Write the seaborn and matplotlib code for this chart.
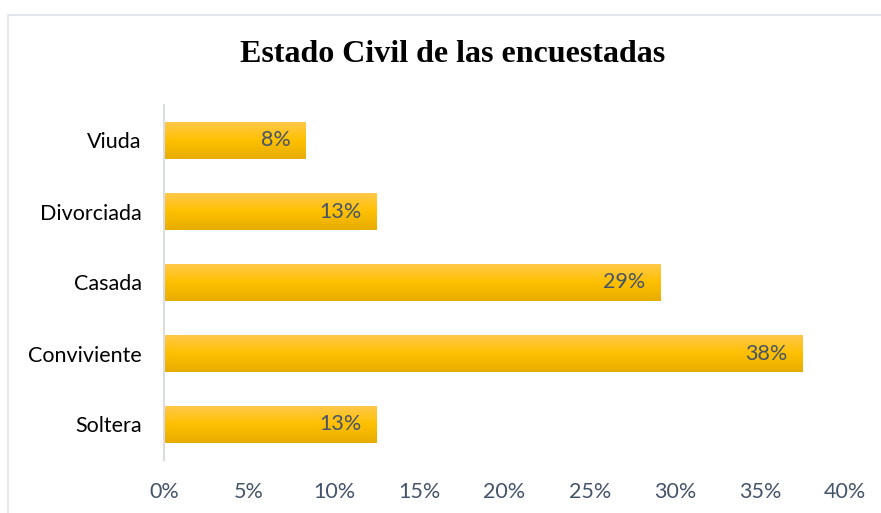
import numpy as np
import pandas as pd
import matplotlib
matplotlib.use("Agg")
import matplotlib.pyplot as plt
import seaborn as sns
from matplotlib.colors import LinearSegmentedColormap
from matplotlib.patches import Rectangle

# datos
categorias = ["Viuda", "Divorciada", "Casada", "Conviviente", "Soltera"]
porcentajes = [2 / 24, 3 / 24, 7 / 24, 9 / 24, 3 / 24]
etiquetas = ["8%", "13%", "29%", "38%", "13%"]
ticks_x = [0, 0.05, 0.10, 0.15, 0.20, 0.25, 0.30, 0.35, 0.40]
ticks_x_txt = ["0%", "5%", "10%", "15%", "20%", "25%", "30%", "35%", "40%"]

df = pd.DataFrame({"Estado": categorias, "Porcentaje": porcentajes})

sns.set_style("white")
plt.rcParams["font.family"] = ["Lato", "DejaVu Sans"]

fig = plt.figure(figsize=(8.81, 5.13), dpi=100)
ax = fig.add_axes([164 / 881, 1 - 460 / 513, (845 - 164) / 881, (460 - 105) / 513])

sns.barplot(data=df, x="Porcentaje", y="Estado", order=categorias,
            color="#FFC000", width=0.51, ax=ax, saturation=1)

# relleno degradado como en Excel
grad = LinearSegmentedColormap.from_list(
    "oro", ["#FFC84A", "#FFC000", "#E6AC00"])
fondo = np.linspace(0, 1, 256).reshape(-1, 1)
for p in ax.patches:
    x0, y0 = p.get_x(), p.get_y()
    w, h = p.get_width(), p.get_height()
    p.set_facecolor("none")
    p.set_edgecolor("none")
    im = ax.imshow(fondo, cmap=grad, aspect="auto",
                   extent=(x0, x0 + w, y0 + h, y0), zorder=2)
    im.set_clip_path(p)
    im.set_clip_box(ax.bbox)

for i, (v, t) in enumerate(zip(porcentajes, etiquetas)):
    ax.annotate(t, xy=(v, i), xytext=(-11, 0), textcoords="offset points",
                ha="right", va="center", fontsize=15.5, color="#44546A",
                zorder=3)

ax.set_xlim(0, 0.40)
ax.set_ylim(4.5, -0.5)
ax.set_xticks(ticks_x)
ax.set_xticklabels(ticks_x_txt)
ax.set_xlabel("")
ax.set_ylabel("")
ax.tick_params(axis="x", length=0, pad=16, labelsize=15.5, labelcolor="#44546A")
ax.tick_params(axis="y", length=0, pad=16, labelsize=15.5, labelcolor="#000000")

for s in ["top", "right", "bottom"]:
    ax.spines[s].set_visible(False)
ax.spines["left"].set_color("#D9DDE3")
ax.spines["left"].set_linewidth(1.5)

fig.text(453 / 881, 1 - 55 / 513, "Estado Civil de las encuestadas",
         ha="center", va="center", fontsize=23, fontweight="bold",
         family="Liberation Serif", color="black")

# borde del grafico
fig.patches.append(Rectangle((8 / 881, -0.05), 1.0, 1 - 15 / 513 + 0.05,
                             transform=fig.transFigure, fill=False,
                             edgecolor="#DDE3EA", linewidth=1.2))

fig.savefig("out.png", dpi=100)
